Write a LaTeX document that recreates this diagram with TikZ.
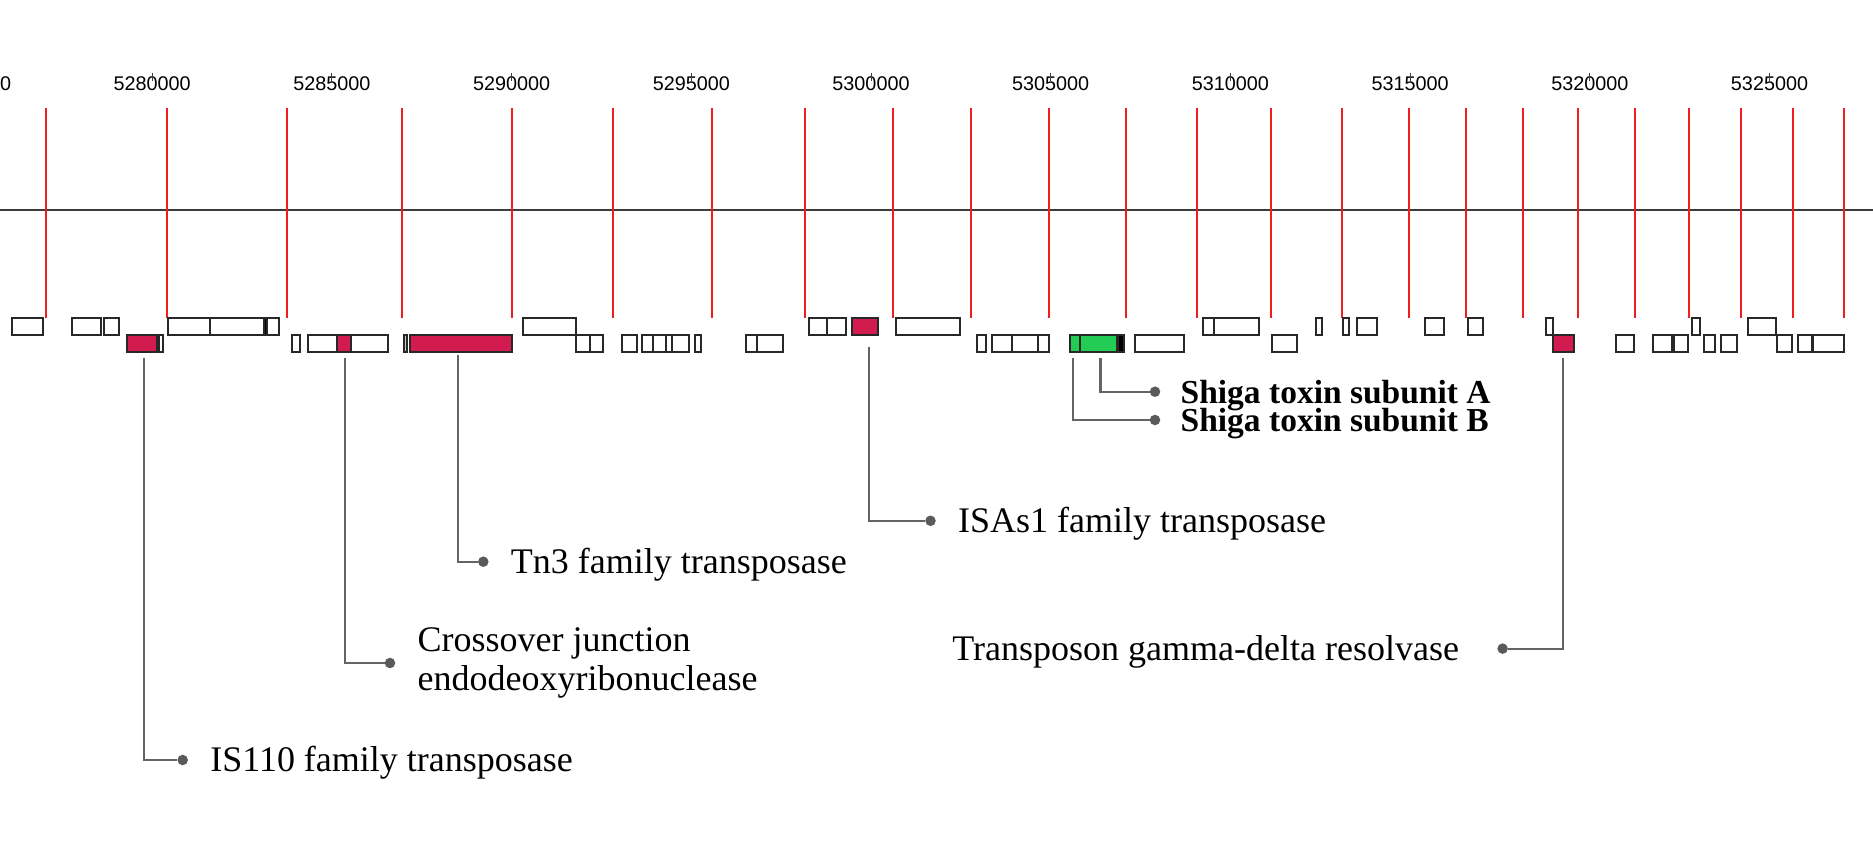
\documentclass[tikz,border=0pt]{standalone}
\usepackage{fontspec}
\setmainfont{Liberation Serif}
\newfontfamily\axisfont{Liberation Sans}
\usetikzlibrary{positioning}

\definecolor{genered}{RGB}{210,28,80}
\definecolor{genegreen}{RGB}{34,204,85}
\definecolor{genelight}{RGB}{200,200,200}
\definecolor{boxline}{RGB}{40,40,40}
\definecolor{axisgray}{RGB}{60,60,60}
\definecolor{gridred}{RGB}{240,30,30}
\definecolor{conngray}{RGB}{100,100,100}
\definecolor{dotgray}{RGB}{90,90,90}

\begin{document}
\begin{tikzpicture}[x=1pt,y=-1pt,
  genebox/.style={draw=boxline, line width=1.8pt},
  gridline/.style={draw=gridred, line width=2pt},
  connector/.style={draw=conngray, line width=2.2pt},
  labeldot/.style={circle, fill=dotgray, inner sep=0pt, minimum size=10.5pt},
  genelabel/.style={font=\fontsize{36}{39}\selectfont, inner sep=0pt, text height=23.5pt, text depth=0pt},
  ]
  \useasboundingbox[fill=white] (0,0) rectangle (1873,860);

  %draw position labels
  \foreach \lab [count=\i from 0] in {5275000,5280000,5285000,5290000,5295000,5300000,5305000,5310000,5315000,5320000,5325000} {
    \pgfmathsetmacro{\xpos}{-27.5+\i*179.7}
    \node[font=\axisfont\fontsize{19.8}{20}\selectfont, anchor=base, inner sep=0pt] (tick\i) at (\xpos,90) {\lab};
    \draw[axisgray, line width=1pt] (\xpos,72.5) -- (\xpos,80.5);
  }

  %draw horizontal line
  \draw[axisgray, line width=2.4pt] (0,210) -- (1873,210);

  %draw red lines
  \foreach \x in {46,166.7,287,402.3,511.7,612.7,712,805,893.3,971,1049,1125.7,1197,1270.7,1342.3,1409,1466,1523.3,1578,1635,1689,1741,1793.3,1843.7}
    \draw[gridline] (\x,108) -- (\x,318);

  %draw genes, upper row
  \foreach \a/\b/\c in {11.7/42.7/white, 72/101/white, 104.3/119.3/white, 168/210.3/white, 210.3/264/white, 264/266.7/black, 266.7/278.7/white, 523.3/575.7/white, 809.3/827.3/white, 827.3/846/white, 851.7/878.3/genered, 896/960/white, 1203.3/1214/white, 1214/1259.3/white, 1316/1321.7/white, 1343.3/1349/white, 1356.7/1376.7/white, 1425/1443.7/white, 1467.7/1482.7/white, 1545.7/1552.7/white, 1692.3/1700.3/white, 1747.7/1775.7/white}
    \draw[genebox, fill=\c] (\a,318.3) rectangle (\b,335.3);

  %draw genes, lower row
  \foreach \a/\b/\c in {127.3/156.7/genered, 156.7/159/black, 159/163.3/white, 291.7/300/white, 307.7/337.3/white, 337.3/350.7/genered, 350.7/388/white, 404/407.3/genelight, 410/511.7/genered, 576/590/white, 590/603.3/white, 622/637.3/white, 642/653.3/white, 653.3/666/white, 666/671.7/white, 671.7/689.3/white, 695.3/700.7/white, 746/757.3/white, 757.3/782.7/white, 977.3/986/white, 992/1011.7/white, 1011.7/1037.7/white, 1037.7/1049/white, 1070/1080/genegreen, 1080/1116.7/genegreen, 1118.3/1124.3/black, 1135/1184.3/white, 1272/1297/white, 1552.7/1573.7/genered, 1615.7/1634.3/white, 1653.3/1671.7/white, 1674.3/1688.3/white, 1703.7/1715/white, 1721/1737/white, 1776.7/1792.3/white, 1798.3/1811.7/white, 1811.7/1813/black, 1813/1844.3/white}
    \draw[genebox, fill=\c] (\a,335.3) rectangle (\b,351.7);

  %where the connectors leave the genes
  \coordinate (is110) at (144,358);
  \coordinate (cross) at (345,358);
  \coordinate (tn3) at (457.7,355);
  \coordinate (isas1) at (869,347);
  \coordinate (stxb) at (1073.3,358);
  \coordinate (stxa) at (1100.5,358);
  \coordinate (resolv) at (1563.3,358);

  %draw labels
  \node[labeldot] (is110dot) at (182.7,760) {};
  \node[genelabel, right=22pt of is110dot] (is110txt) {IS110 family transposase};
  \draw[connector] (is110) |- (is110dot);

  \node[labeldot] (crossdot) at (390,663) {};
  \node[font=\fontsize{36}{39}\selectfont, inner sep=0pt, align=left, right=22pt of crossdot] (crosstxt) {Crossover junction\\endodeoxyribonuclease};
  \draw[connector] (cross) |- (crossdot);

  \node[labeldot] (tn3dot) at (483.3,561.7) {};
  \node[genelabel, right=22pt of tn3dot] (tn3txt) {Tn3 family transposase};
  \draw[connector] (tn3) |- (tn3dot);

  \node[labeldot] (isas1dot) at (930.5,520.8) {};
  \node[genelabel, right=22pt of isas1dot] (isas1txt) {ISAs1 family transposase};
  \draw[connector] (isas1) |- (isas1dot);

  \node[labeldot] (stxadot) at (1155,391.7) {};
  \node[genelabel, font=\fontsize{33.5}{36}\selectfont\bfseries, right=20pt of stxadot] (stxatxt) {Shiga toxin subunit A};
  \draw[connector] (stxa) |- (stxadot);

  \node[labeldot] (stxbdot) at (1155,420) {};
  \node[genelabel, font=\fontsize{33.5}{36}\selectfont\bfseries, right=20pt of stxbdot] (stxbtxt) {Shiga toxin subunit B};
  \draw[connector] (stxb) |- (stxbdot);

  \node[labeldot] (resdot) at (1502.6,648.6) {};
  \node[genelabel, left=38pt of resdot] (restxt) {Transposon gamma-delta resolvase};
  \draw[connector] (resolv) |- (resdot);
\end{tikzpicture}
\end{document}
